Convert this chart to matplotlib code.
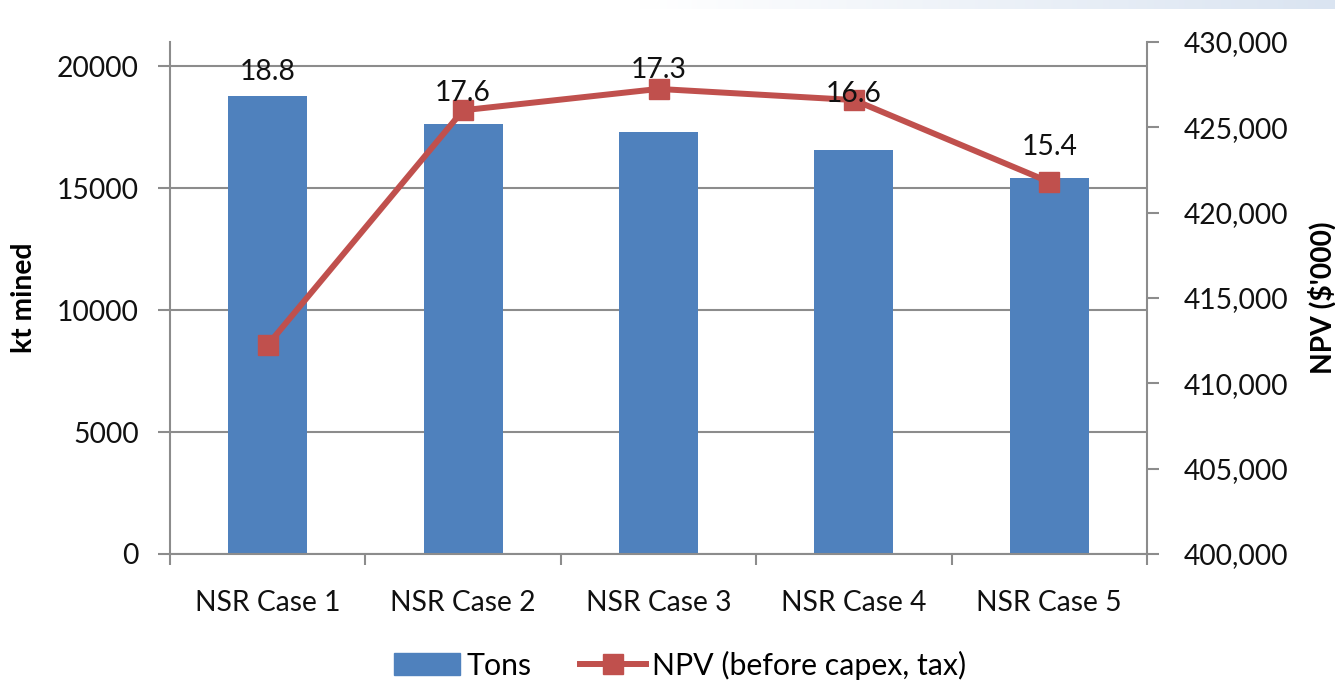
import matplotlib
matplotlib.use("Agg")
import matplotlib.pyplot as plt
import numpy as np
from matplotlib.patches import Patch
from matplotlib.lines import Line2D
from matplotlib.ticker import FuncFormatter, FixedLocator

plt.rcParams['font.family'] = ['Lato', 'DejaVu Sans']

categories = ["NSR Case 1", "NSR Case 2", "NSR Case 3", "NSR Case 4", "NSR Case 5"]
tons = [18800, 17650, 17300, 16580, 15420]
tons_labels = ["18.8", "17.6", "17.3", "16.6", "15.4"]
npv = [412250, 426000, 427250, 426600, 421800]

# label offsets above bar tops (points) - styling
label_offsets = [17, 22, 45, 40, 22]

BLUE = "#4F81BD"
RED = "#C0504D"
GRID = "#8C8C8C"
FS = 20.3

fig = plt.figure(figsize=(13.35, 6.97), dpi=100)

# light gradient band at top
band = fig.add_axes([0, 1 - 9 / 697, 1, 9 / 697])
grad = np.linspace(0, 1, 512)
start = 0.48
alpha = np.clip((grad - start) / (1 - start), 0, 1)
c0 = np.array([1, 1, 1])
c1 = np.array([0xDA, 0xE4, 0xF1]) / 255
img = (c0[None, :] * (1 - alpha[:, None]) + c1[None, :] * alpha[:, None])[None, :, :]
band.imshow(img, aspect='auto', extent=[0, 1, 0, 1])
band.axis('off')

L, R = 170 / 1335, 1147 / 1335
B, T = 1 - 554 / 697, 1 - 42 / 697
ax = fig.add_axes([L, B, R - L, T - B])
x = np.arange(len(categories))

ax.bar(x, tons, width=0.405, color=BLUE, zorder=2)
ax.set_xlim(-0.5, len(categories) - 0.5)
ax.set_ylim(0, 21000)
ax.set_yticks([0, 5000, 10000, 15000, 20000])
ax.yaxis.grid(True, color=GRID, linewidth=1.5, zorder=0)
ax.set_axisbelow(True)
for s in ['top', 'right']:
    ax.spines[s].set_visible(False)
for s in ['left', 'bottom']:
    ax.spines[s].set_color(GRID)
    ax.spines[s].set_linewidth(1.5)
ax.tick_params(axis='y', direction='out', length=8.5, width=1.5, color=GRID,
               labelsize=FS, pad=14, labelcolor="#111111")
ax.set_xticks(x)
ax.set_xticklabels(categories)
ax.xaxis.set_minor_locator(FixedLocator(np.arange(-0.5, len(categories), 1.0)))
ax.tick_params(axis='x', which='major', length=0, labelsize=FS, pad=26, labelcolor="#111111")
ax.tick_params(axis='x', which='minor', direction='out', length=8, width=1.5, color=GRID)
ax.set_ylabel("kt mined", fontsize=FS, fontweight='bold', labelpad=14)

ax2 = ax.twinx()
ax2.set_ylim(400000, 430000)
ax2.set_yticks(np.arange(400000, 430001, 5000))
ax2.yaxis.set_major_formatter(FuncFormatter(lambda v, p: f"{int(v):,}"))
ax2.plot(x, npv, color=RED, linewidth=4.3, marker='s', markersize=15,
         markerfacecolor=RED, markeredgecolor=RED, zorder=3)
for s in ['top', 'left', 'bottom']:
    ax2.spines[s].set_visible(False)
ax2.spines['right'].set_color(GRID)
ax2.spines['right'].set_linewidth(1.5)
ax2.tick_params(axis='y', direction='out', length=8.5, width=1.5, color=GRID,
                labelsize=FS, pad=18, labelcolor="#111111")
ax2.set_ylabel("NPV ($'000)", fontsize=FS, fontweight='bold', labelpad=14)

for xi, v, lab, off in zip(x, tons, tons_labels, label_offsets):
    ax2.annotate(lab, xy=(xi, v), xycoords=ax.transData, xytext=(0, off),
                 textcoords='offset points', ha='center', va='center',
                 fontsize=FS, color="#111111", zorder=5)

handles = [Patch(facecolor=BLUE, edgecolor=BLUE),
           Line2D([0], [0], color=RED, linewidth=4.3, marker='s', markersize=15)]
fig.legend(handles, ["Tons", "NPV (before capex, tax)"], loc='center',
           bbox_to_anchor=(680 / 1335, 1 - 665 / 697), ncol=2, frameon=False,
           fontsize=21.8, handlelength=2.2, handleheight=0.7, handletextpad=0.2,
           columnspacing=1.6)

fig.savefig("out.png", dpi=100)
